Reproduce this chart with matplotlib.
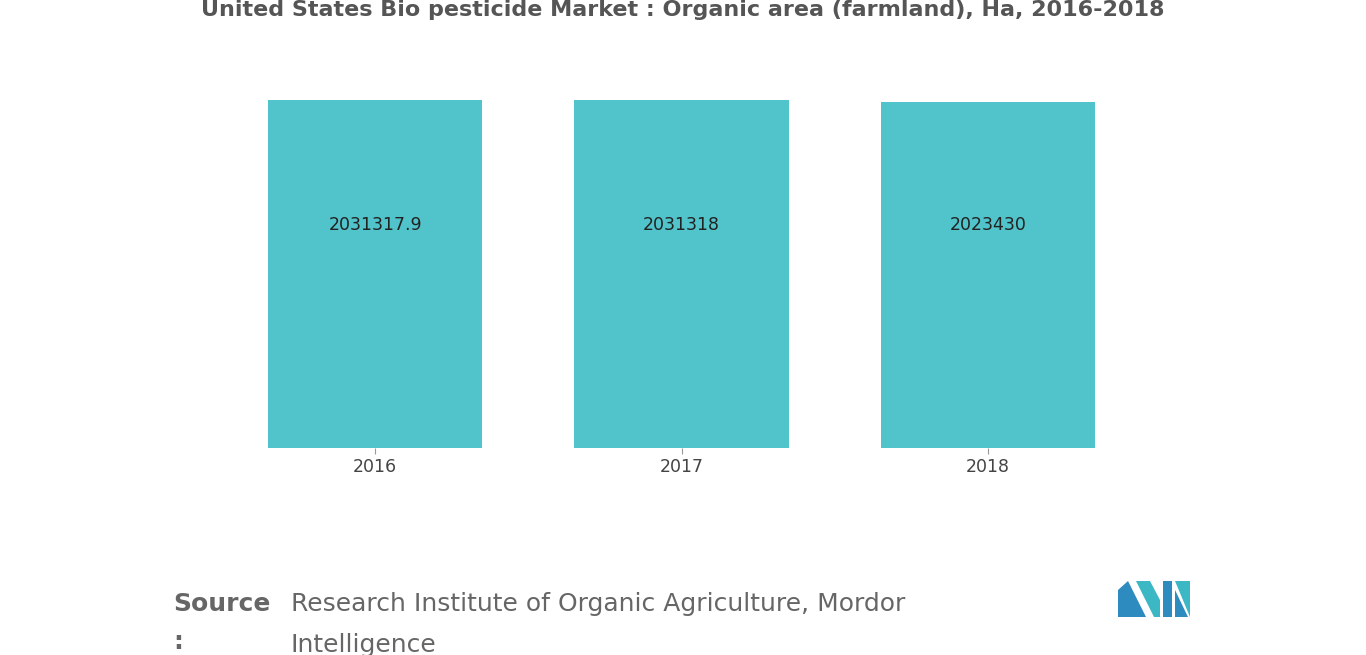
import matplotlib.pyplot as plt
from matplotlib.patches import Polygon

years = ['2016', '2017', '2018']
area_ha = [2031317.9, 2031318, 2023430]
value_labels = ['2031317.9', '2031318', '2023430']

fig = plt.figure(figsize=(13.66, 6.55), dpi=100)
ax = fig.add_axes([0.1625, 0.316, 0.673, 0.531])

bars = ax.bar(range(len(years)), area_ha, width=0.7, color='#50C4CA')
for bar, lab in zip(bars, value_labels):
    ax.text(bar.get_x() + bar.get_width() / 2, 1.3e6, lab,
            ha='center', va='center', fontsize=12.5, color='#222222')

ax.set_xlim(-0.5, 2.5)
ax.set_ylim(0, 2031318)
ax.set_xticks(range(len(years)))
ax.set_xticklabels(years, fontsize=12.5, color='#444444')
ax.tick_params(axis='x', length=4, color='#999999')
ax.set_yticks([])
for s in ax.spines.values():
    s.set_visible(False)

fig.text(0.5, 0.985, 'United States Bio pesticide Market : Organic area (farmland), Ha, 2016-2018',
         ha='center', va='center', fontsize=16, fontweight='bold', color='#555555')

fig.text(0.127, 0.078, 'Source', fontsize=18, fontweight='bold', color='#666666', va='center')
fig.text(0.127, 0.02, ':', fontsize=18, fontweight='bold', color='#666666', va='center')
fig.text(0.213, 0.078, 'Research Institute of Organic Agriculture, Mordor', fontsize=18,
         color='#666666', va='center')
fig.text(0.213, 0.015, 'Intelligence', fontsize=18, color='#666666', va='center')

# logo
def px(x, y):
    return (x / 1366, 1 - y / 655)

logo = [
    ([(1118, 617), (1118, 590), (1128, 581), (1146, 617)], '#2E8BC0'),
    ([(1136, 581), (1150, 581), (1160, 600), (1160, 617), (1154, 617)], '#3BB8C4'),
    ([(1163, 617), (1163, 581), (1172, 581), (1172, 617)], '#2E8BC0'),
    ([(1175, 581), (1190, 581), (1190, 617)], '#3BB8C4'),
    ([(1175, 590), (1188, 617), (1175, 617)], '#2E8BC0'),
]
for pts, c in logo:
    fig.patches.append(Polygon([px(*p) for p in pts], closed=True, transform=fig.transFigure,
                               facecolor=c, edgecolor='none'))

fig.savefig('out.png', dpi=100)
